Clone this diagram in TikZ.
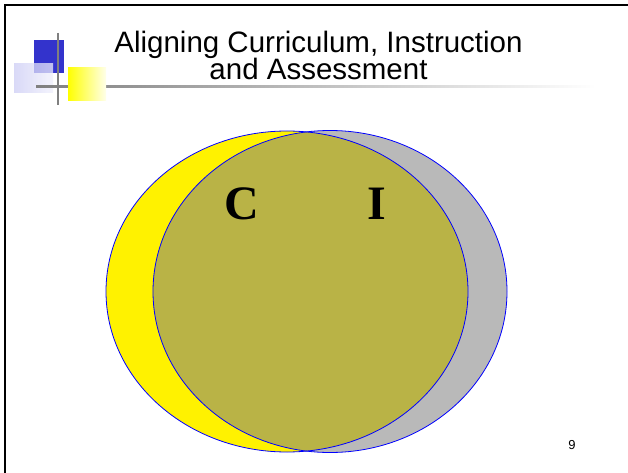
\documentclass[tikz,border=0pt]{standalone}
\usepackage{fontspec}
\setmainfont{Liberation Serif}
\setsansfont{Liberation Sans}
\usepackage{tikz}
\usetikzlibrary{positioning,shadings}
\definecolor{ornblue}{RGB}{51,51,204}
\definecolor{ornlav}{RGB}{205,205,245}

\begin{document}
\begin{tikzpicture}[
    x=1pt, y=-1pt,
    frame/.style={line width=2.5pt, black},
    rule/.style={line width=2pt, black!50},
    ring/.style={draw=blue, line width=0.8pt},
    letter/.style={inner sep=0pt, font=\fontsize{48}{48}\selectfont\bfseries},
    heading/.style={inner sep=0pt, align=center,
                    font={\sffamily\fontsize{29.5}{27}\selectfont\lineskiplimit=-30pt\relax}}
  ]
    \useasboundingbox[fill=white] (0,0) rectangle (628,473);
    % slide frame (top and left only)
    \draw[frame] (628,5) -- (5,5) -- (5,473);

    % corner ornament
    \fill[ornblue] (34,40) rectangle (64,73);
    \shade[left color=ornlav, right color=ornlav!30, opacity=.75] (14,64) rectangle (53,93);
    \shade[left color=black!50, right color=white] (36,86) rectangle (596,88);
    \draw[rule] (58,33) -- (58,105);
    \shade[left color=yellow, right color=yellow!8] (68,68) rectangle (106,101);

    \node[heading, anchor=north] (title) at (318.5,30.5)
      {Aligning Curriculum, Instruction\\and Assessment};

    % the two sets
    \coordinate (curr)  at (287,291.5);
    \coordinate (instr) at (330,291.5);
    \fill[yellow] (curr) ellipse [x radius=181pt, y radius=160.5pt];
    \fill[black!50, fill opacity=.55] (instr) ellipse [x radius=177pt, y radius=161pt];
    \draw[ring] (curr)  ellipse [x radius=181pt, y radius=160.5pt];
    \draw[ring] (instr) ellipse [x radius=177pt, y radius=161pt];

    \node[letter] (C) at (242,204) {C};
    \node[letter] (I) at (377,204) {I};

    \node[inner sep=0pt, font=\sffamily\fontsize{13}{13}\selectfont] (page) at (572,445) {9};
\end{tikzpicture}
\end{document}
